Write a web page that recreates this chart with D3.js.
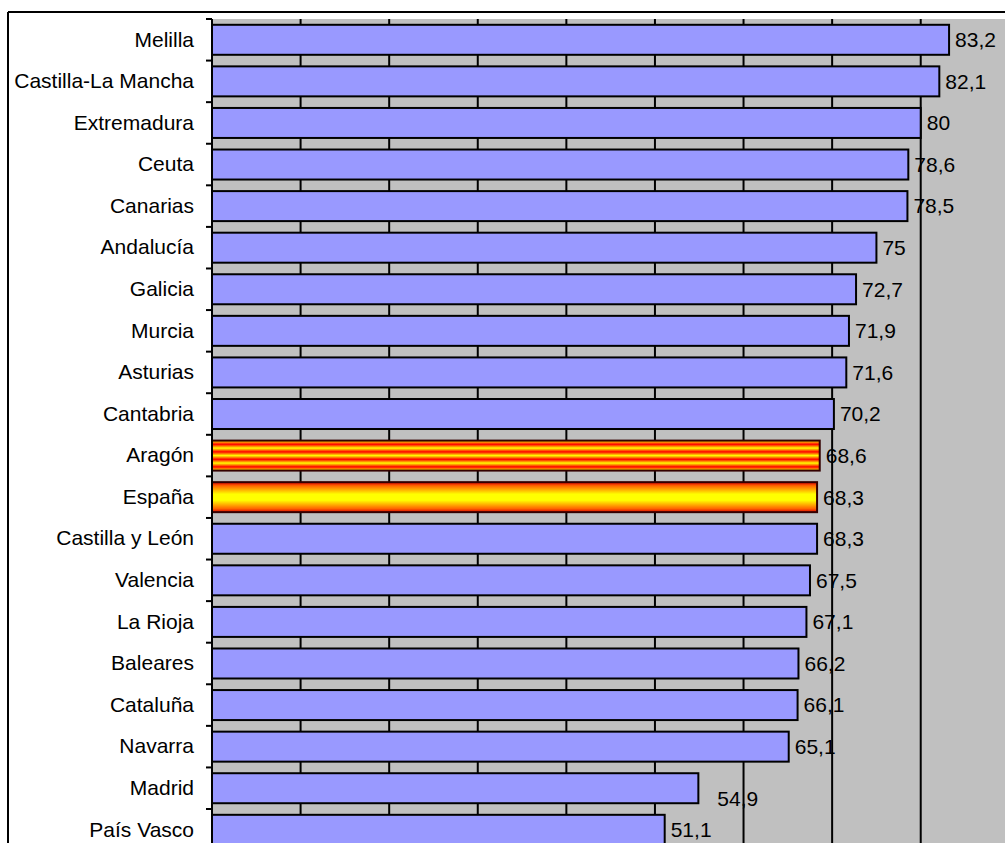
<!DOCTYPE html>
<html>
<head>
<meta charset="utf-8">
<script src="https://cdn.jsdelivr.net/npm/d3@7"></script>
<style>
  html, body { margin: 0; padding: 0; background: #fff; overflow: hidden; }
  svg { display: block; }
  text { font-family: "Liberation Sans", Arial, sans-serif; font-size: 21px; fill: #000; }
</style>
</head>
<body>
<div id="chart"></div>
<script>
const categories = ["Melilla", "Castilla-La Mancha", "Extremadura", "Ceuta", "Canarias", "Andalucía",
  "Galicia", "Murcia", "Asturias", "Cantabria", "Aragón", "España", "Castilla y León", "Valencia",
  "La Rioja", "Baleares", "Cataluña", "Navarra", "Madrid", "País Vasco"];
const values = [83.2, 82.1, 80, 78.6, 78.5, 75, 72.7, 71.9, 71.6, 70.2, 68.6, 68.3, 68.3, 67.5,
  67.1, 66.2, 66.1, 65.1, 54.9, 51.1];
const valueLabels = ["83,2", "82,1", "80", "78,6", "78,5", "75", "72,7", "71,9", "71,6", "70,2",
  "68,6", "68,3", "68,3", "67,5", "67,1", "66,2", "66,1", "65,1", "54,9", "51,1"];
const gridTicks = [10, 20, 30, 40, 50, 60, 70, 80, 90];

const W = 1005, H = 843;
const data = categories.map((c, i) => ({ cat: c, v: values[i], label: valueLabels[i] }));

const svg = d3.select("#chart").append("svg").attr("width", W).attr("height", H);

const plotLeft = 212, plotTop = 19;
const x = d3.scaleLinear().domain([0, 90]).range([plotLeft, plotLeft + 90 * 8.859]);
const step = 41.58;
const y = d3.scaleBand().domain(categories)
  .range([plotTop, plotTop + step * categories.length])
  .paddingInner(0.2785).paddingOuter(0.2785 / 2);

// gradients
const defs = svg.append("defs");
const gA = defs.append("linearGradient").attr("id", "aragon").attr("x1", 0).attr("y1", 0).attr("x2", 0).attr("y2", 1);
const aStops = [[0, "#ffff00"], [0.125, "#ff0000"], [0.25, "#ffff00"], [0.375, "#ff0000"], [0.5, "#ffff00"],
  [0.625, "#ff0000"], [0.75, "#ffff00"], [0.875, "#ff0000"], [1, "#ffff00"]];
aStops.forEach(s => gA.append("stop").attr("offset", s[0]).attr("stop-color", s[1]));
const gE = defs.append("linearGradient").attr("id", "espana").attr("x1", 0).attr("y1", 0).attr("x2", 0).attr("y2", 1);
const eStops = [[0, "#dd0000"], [0.12, "#ff6600"], [0.4, "#ffff00"], [0.6, "#ffff00"], [0.88, "#ff6600"], [1, "#dd0000"]];
eStops.forEach(s => gE.append("stop").attr("offset", s[0]).attr("stop-color", s[1]));

// outer chart border
svg.append("line").attr("x1", 8).attr("x2", W + 5).attr("y1", 12).attr("y2", 12)
  .attr("stroke", "#000").attr("stroke-width", 2);
svg.append("line").attr("x1", 8).attr("x2", 8).attr("y1", 12).attr("y2", H + 5)
  .attr("stroke", "#000").attr("stroke-width", 2);

// plot background
svg.append("rect").attr("x", plotLeft).attr("y", plotTop)
  .attr("width", W - plotLeft + 10).attr("height", H - plotTop + 10)
  .attr("fill", "#c0c0c0");

// gridlines
svg.append("g").selectAll("line").data(gridTicks).join("line")
  .attr("x1", d => x(d)).attr("x2", d => x(d))
  .attr("y1", plotTop).attr("y2", H + 10)
  .attr("stroke", "#000").attr("stroke-width", 2);

// bars
svg.append("g").selectAll("rect").data(data).join("rect")
  .attr("x", x(0))
  .attr("y", d => y(d.cat))
  .attr("width", d => x(d.v) - x(0))
  .attr("height", y.bandwidth())
  .attr("fill", d => d.cat === "Aragón" ? "url(#aragon)" : d.cat === "España" ? "url(#espana)" : "#9999ff")
  .attr("stroke", d => (d.cat === "Aragón" || d.cat === "España") ? "#300" : "#000")
  .attr("stroke-width", 2);

// y axis
const yAxis = d3.axisLeft(y).tickSize(0).tickPadding(18);
const ag = svg.append("g").attr("transform", `translate(${plotLeft},0)`).call(yAxis);
ag.select(".domain").remove();
ag.selectAll("text").style("font-size", "21px").attr("font-family", null);
svg.append("line").attr("x1", plotLeft).attr("x2", plotLeft).attr("y1", plotTop).attr("y2", H + 10)
  .attr("stroke", "#000").attr("stroke-width", 2);
// boundary ticks
const bounds = d3.range(categories.length + 1).map(i => plotTop + i * y.step());
svg.append("g").selectAll("line").data(bounds).join("line")
  .attr("x1", plotLeft - 6).attr("x2", plotLeft).attr("y1", d => d).attr("y2", d => d)
  .attr("stroke", "#000").attr("stroke-width", 2);

// value labels
svg.append("g").selectAll("text").data(data).join("text")
  .attr("x", d => x(d.v) + (d.cat === "Madrid" ? 19 : 6))
  .attr("y", d => y(d.cat) + y.bandwidth() / 2 + (d.cat === "Madrid" ? 10 : 0))
  .attr("dy", "0.35em")
  .text(d => d.label);
</script>
</body>
</html>
